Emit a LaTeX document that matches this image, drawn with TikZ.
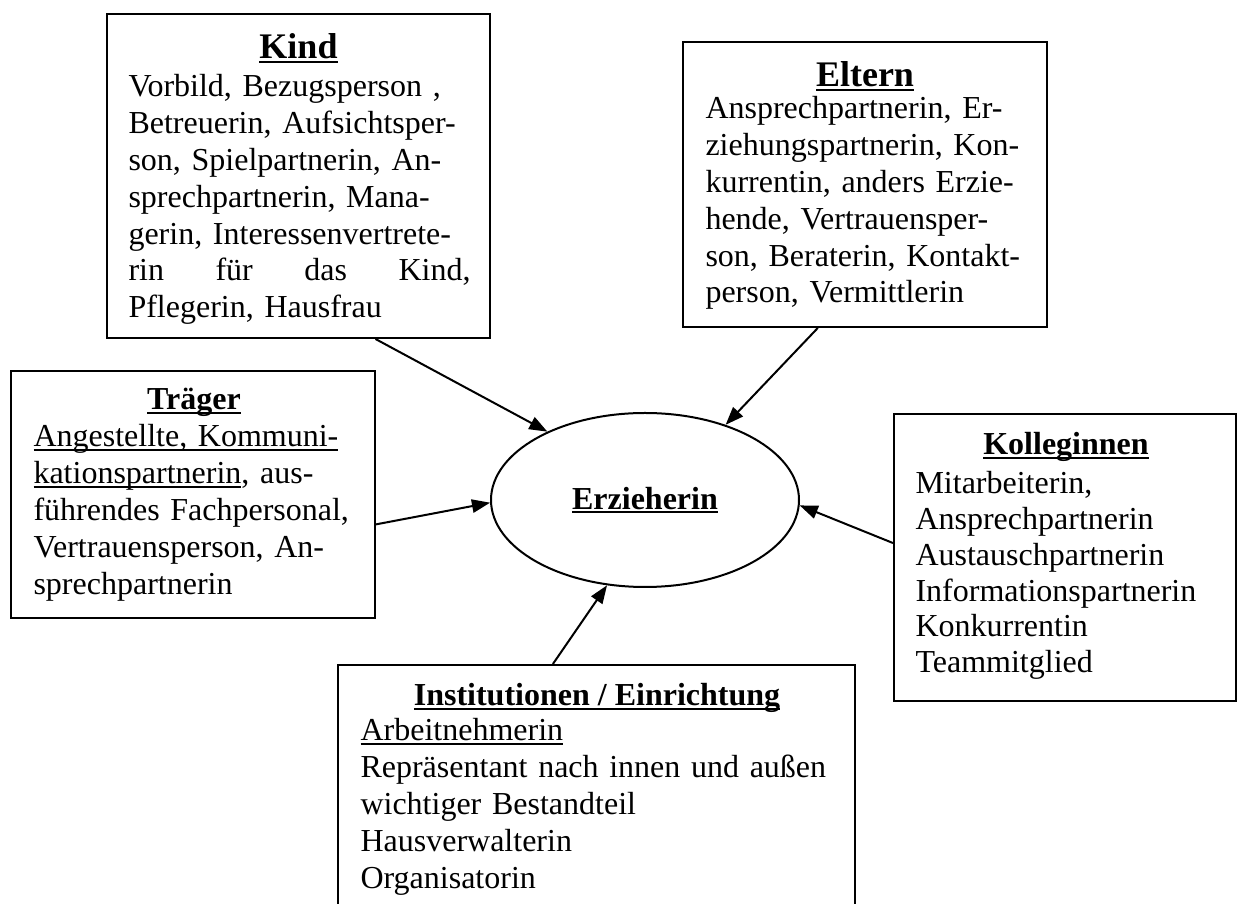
\documentclass[tikz,border=0pt]{standalone}
\usepackage{fontspec}
\setmainfont{Liberation Serif}
\usetikzlibrary{arrows.meta,shapes.geometric,calc,fit}
\newsavebox\ulbox
\newcommand\ulx[1]{\leavevmode\sbox\ulbox{#1}\rlap{\rule[-1.5pt]{\wd\ulbox}{0.6pt}}#1}
\begin{document}
\begin{tikzpicture}[x=0.375pt,y=-0.375pt,
  box/.style={draw, line width=0.75pt, inner sep=0pt, rectangle},
  ttl/.style={anchor=base, inner sep=0pt, font=\bfseries\fontsize{12pt}{13.8pt}\selectfont},
  bigttl/.style={ttl, font=\bfseries\fontsize{13.5pt}{16pt}\selectfont},
  body/.style={anchor=base west, align=left, inner sep=0pt, font=\fontsize{12pt}{13.8pt}\selectfont},
  conn/.style={-{Triangle[length=6.8pt,width=5pt]}, line width=0.75pt}]
\clip (0,0) rectangle (1238,904);
\fill[white] (0,0) rectangle (1238,904);

% boxes
\node[box, fit={(107,14) (490,338)}] (kind) {};
\node[box, fit={(683,42) (1047,327)}] (eltern) {};
\node[box, fit={(11,371) (375,618)}] (traeger) {};
\node[box, fit={(894,414) (1236,701)}] (koll) {};
\node[box, fit={(338,665) (855,915)}] (inst) {};
\node[draw, line width=0.75pt, ellipse, inner sep=0pt, minimum width=115.5pt, minimum height=65.25pt,
      font=\bfseries\fontsize{12pt}{13.8pt}\selectfont] (e) at (645,500) {\ulx{Erzieherin}};

% Kind
\node[bigttl] (kindt) at (298.5,59) {\ulx{Kind}};
\node[body, text width=128.25pt] (kindb) at (128,97) {Vorbild, Bezugsperson ,\\
Betreuerin, Aufsichtsper-\\
son, Spielpartnerin, An-\\
sprechpartnerin, Mana-\\
gerin, Interessenvertrete-\\
\leavevmode\hbox to 128.25pt{rin\hfill für\hfill das\hfill Kind,}\\
Pflegerin, Hausfrau};

% Eltern
\node[bigttl] (elternt) at (865,87) {\ulx{Eltern}};
\node[body, text width=125pt] (elternb) at (705,119) {Ansprechpartnerin, Er-\\
ziehungspartnerin, Kon-\\
kurrentin, anders Erzie-\\
hende, Vertrauensper-\\
son, Beraterin, Kontakt-\\
person, Vermittlerin};

% Traeger
\node[ttl] (traegert) at (194,410) {\ulx{Träger}};
\node[body, text width=125pt] (traegerb) at (33,447) {\ulx{Angestellte, Kommuni-}\\
\ulx{kationspartnerin}, aus-\\
führendes Fachpersonal,\\
Vertrauensperson, An-\\
sprechpartnerin};

% Kolleginnen
\node[ttl] (kollt) at (1066,455) {\ulx{Kolleginnen}};
\node[body, text width=122pt, font=\fontsize{12pt}{13.4pt}\selectfont] (kollb) at (915,494) {Mitarbeiterin,\\
Ansprechpartnerin\\
Austauschpartnerin\\
Informationspartnerin\\
Konkurrentin\\
Teammitglied};

% Institutionen
\node[ttl] (instt) at (597,706) {\ulx{Institutionen / Einrichtung}};
\node[body, text width=180pt, font=\fontsize{12pt}{13.8pt}\selectfont] (instb) at (360,741) {\ulx{Arbeitnehmerin}\\
Repräsentant nach innen und außen\\
wichtiger Bestandteil\\
Hausverwalterin\\
Organisatorin};

% connectors
\draw[conn] ($(kind.south west)!0.70!(kind.south east)$) -- (e.145);
\draw[conn] ($(eltern.south west)!0.371!(eltern.south east)$) -- (e.43.5);
\draw[conn] ($(traeger.north east)!0.62!(traeger.south east)$) -- (e.181);
\draw[conn] ($(koll.north west)!0.45!(koll.south west)$) -- (e.358);
\draw[conn] ($(inst.north west)!0.416!(inst.north east)$) -- (e.246);
\end{tikzpicture}
\end{document}
